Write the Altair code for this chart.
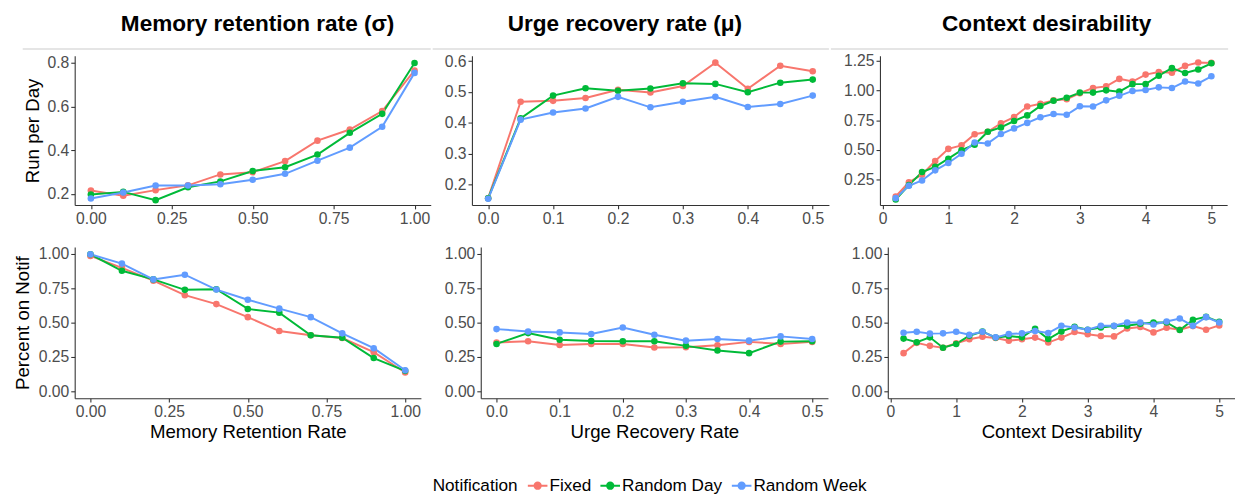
import altair as alt
import pandas as pd

FONT = "Liberation Sans"
CATS = ["Fixed", "Random Day", "Random Week"]
COLORS = ["#F8766D", "#00BA38", "#619CFF"]
LEGEND_TITLE = ["Notification"]

# ---------------- x values ----------------
sigma_x = [0.0, 0.1, 0.2, 0.3, 0.4, 0.5, 0.6, 0.7, 0.8, 0.9, 1.0]
mu_x = [0.0, 0.05, 0.1, 0.15, 0.2, 0.25, 0.3, 0.35, 0.4, 0.45, 0.5]
ctx_x = [0.2, 0.4, 0.6, 0.8, 1.0, 1.2, 1.4, 1.6, 1.8, 2.0, 2.2, 2.4, 2.6,
         2.8, 3.0, 3.2, 3.4, 3.6, 3.8, 4.0, 4.2, 4.4, 4.6, 4.8, 5.0]

# ---------------- Run per Day ----------------
run_sigma_fixed = [0.215, 0.191, 0.217, 0.239, 0.289, 0.299, 0.350, 0.444, 0.495, 0.580, 0.766]
run_sigma_day = [0.197, 0.209, 0.171, 0.230, 0.257, 0.305, 0.322, 0.380, 0.480, 0.567, 0.800]
run_sigma_week = [0.179, 0.206, 0.238, 0.238, 0.244, 0.265, 0.292, 0.352, 0.412, 0.508, 0.755]

run_mu_fixed = [0.155, 0.468, 0.471, 0.480, 0.507, 0.498, 0.519, 0.595, 0.510, 0.585, 0.567]
run_mu_day = [0.155, 0.414, 0.488, 0.512, 0.504, 0.511, 0.528, 0.526, 0.499, 0.530, 0.540]
run_mu_week = [0.153, 0.410, 0.433, 0.446, 0.484, 0.450, 0.468, 0.484, 0.451, 0.461, 0.488]

run_ctx_fixed = [0.111, 0.231, 0.294, 0.408, 0.510, 0.540, 0.633, 0.654, 0.725, 0.777,
                 0.865, 0.889, 0.917, 0.927, 0.977, 1.020, 1.034, 1.097, 1.075, 1.133,
                 1.154, 1.149, 1.206, 1.234, 1.231]
run_ctx_day = [0.086, 0.206, 0.316, 0.359, 0.428, 0.499, 0.545, 0.654, 0.690, 0.744,
               0.791, 0.870, 0.914, 0.939, 0.982, 0.982, 1.001, 0.990, 1.053, 1.053,
               1.124, 1.187, 1.146, 1.176, 1.228]
run_ctx_week = [0.097, 0.201, 0.245, 0.330, 0.392, 0.469, 0.564, 0.556, 0.635, 0.682,
                0.728, 0.775, 0.802, 0.796, 0.867, 0.865, 0.917, 0.955, 0.996, 1.004,
                1.026, 1.020, 1.075, 1.059, 1.119]

# ---------------- Percent on Notif ----------------
pct_sigma_fixed = [0.986, 0.899, 0.806, 0.700, 0.635, 0.540, 0.439, 0.408, 0.388, 0.285, 0.137]
pct_sigma_day = [0.998, 0.878, 0.815, 0.739, 0.743, 0.600, 0.573, 0.408, 0.390, 0.242, 0.149]
pct_sigma_week = [0.998, 0.930, 0.815, 0.849, 0.741, 0.667, 0.602, 0.540, 0.422, 0.314, 0.153]

pct_mu_fixed = [0.355, 0.365, 0.338, 0.345, 0.345, 0.319, 0.321, 0.336, 0.360, 0.345, 0.360]
pct_mu_day = [0.345, 0.424, 0.376, 0.367, 0.365, 0.365, 0.331, 0.297, 0.278, 0.362, 0.365]
pct_mu_week = [0.453, 0.436, 0.429, 0.417, 0.465, 0.412, 0.369, 0.381, 0.369, 0.400, 0.381]

pct_ctx_fixed = [0.278, 0.353, 0.331, 0.317, 0.350, 0.379, 0.398, 0.388, 0.369, 0.379,
                 0.391, 0.355, 0.391, 0.432, 0.415, 0.403, 0.400, 0.458, 0.468, 0.429,
                 0.463, 0.448, 0.475, 0.448, 0.480]
pct_ctx_day = [0.384, 0.357, 0.393, 0.317, 0.345, 0.405, 0.436, 0.391, 0.403, 0.393,
               0.456, 0.381, 0.436, 0.470, 0.448, 0.465, 0.475, 0.477, 0.492, 0.501,
               0.501, 0.446, 0.520, 0.542, 0.506]
pct_ctx_week = [0.427, 0.434, 0.420, 0.422, 0.434, 0.412, 0.434, 0.393, 0.417, 0.422,
                0.439, 0.424, 0.477, 0.465, 0.448, 0.477, 0.477, 0.501, 0.501, 0.487,
                0.508, 0.530, 0.477, 0.540, 0.501]


def frame(xs, fixed, day, week):
    rows = []
    for cat, ys in zip(CATS, [fixed, day, week]):
        for xv, yv in zip(xs, ys):
            rows.append({"x": xv, "y": yv, "Notification": cat})
    return pd.DataFrame(rows)


LEGEND = alt.Legend(
    orient="none", legendX=461, legendY=427, direction="horizontal",
    title=None,
    symbolType="M-1,0H1M-0.32,0A0.32,0.32,0,1,1,0.32,0A0.32,0.32,0,1,1,-0.32,0",
    symbolSize=400, symbolStrokeWidth=2, symbolOpacity=1,
)


def panel(df, xdom, xvals, xfmt, ydom, yvals, yfmt, width, height, extent,
          ytitle=None, xtitle=None, title=None, title_dx=0, rule=None,
          legend_title=False):
    base = alt.Chart(df).encode(
        x=alt.X("x:Q", title=xtitle,
                scale=alt.Scale(domain=xdom, nice=False, zero=False),
                axis=alt.Axis(values=xvals, format=xfmt)),
        y=alt.Y("y:Q", title=ytitle,
                scale=alt.Scale(domain=ydom, nice=False, zero=False),
                axis=alt.Axis(values=yvals, format=yfmt, minExtent=extent,
                              maxExtent=extent)),
        color=alt.Color("Notification:N",
                        scale=alt.Scale(domain=CATS, range=COLORS),
                        legend=LEGEND),
    )
    layers = []
    if rule is not None:
        layers.append(
            alt.Chart(pd.DataFrame({"r": [0]})).mark_rule(
                color="#cccccc", strokeWidth=1.2
            ).encode(x=alt.value(rule[0]), x2=alt.value(rule[1]), y=alt.value(-7))
        )
    layers.append(base.mark_line(strokeWidth=2))
    layers.append(base.mark_circle(size=45, opacity=1))
    if legend_title:
        layers.append(
            alt.Chart(pd.DataFrame({"t": LEGEND_TITLE})).mark_text(
                align="left", baseline="middle", font=FONT, fontSize=17.5,
                color="#000000",
            ).encode(text="t:N", x=alt.value(-49), y=alt.value(244))
        )
    props = dict(width=width, height=height)
    if title is not None:
        props["title"] = alt.TitleParams(
            text=title, fontSize=23, fontWeight="bold", font=FONT,
            color="#000000", anchor="middle", dx=title_dx, offset=-5,
            baseline="alphabetic",
        )
    return alt.layer(*layers).properties(**props)


H1 = 152
H2 = 154

p11 = panel(frame(sigma_x, run_sigma_fixed, run_sigma_day, run_sigma_week),
            [-0.05, 1.05], [0, 0.25, 0.5, 0.75, 1.0], ".2f",
            [0.149, 0.833], [0.2, 0.4, 0.6, 0.8], ".1f", 363, H1, 30,
            ytitle="Run per Day", title="Memory retention rate (σ)",
            title_dx=5, rule=(-53, 363))
p12 = panel(frame(mu_x, run_mu_fixed, run_mu_day, run_mu_week),
            [-0.025, 0.525], [0, 0.1, 0.2, 0.3, 0.4, 0.5], ".1f",
            [0.133, 0.617], [0.2, 0.3, 0.4, 0.5, 0.6], ".1f", 364, H1, 40,
            title="Urge recovery rate (μ)", title_dx=-26, rule=(-40, 364))
p13 = panel(frame(ctx_x, run_ctx_fixed, run_ctx_day, run_ctx_week),
            [-0.04, 5.24], [0, 1, 2, 3, 4, 5], "d",
            [0.04, 1.29], [0.25, 0.5, 0.75, 1.0, 1.25], ".2f", 354, H1, 50,
            title="Context desirability", title_dx=-7, rule=(-50, 355))

p21 = panel(frame(sigma_x, pct_sigma_fixed, pct_sigma_day, pct_sigma_week),
            [-0.05, 1.05], [0, 0.25, 0.5, 0.75, 1.0], ".2f",
            [-0.05, 1.05], [0, 0.25, 0.5, 0.75, 1.0], ".2f", 353, H2, 40,
            ytitle="Percent on Notif", xtitle="Memory Retention Rate")
p22 = panel(frame(mu_x, pct_mu_fixed, pct_mu_day, pct_mu_week),
            [-0.025, 0.525], [0, 0.1, 0.2, 0.3, 0.4, 0.5], ".1f",
            [-0.05, 1.05], [0, 0.25, 0.5, 0.75, 1.0], ".2f", 354, H2, 50,
            xtitle="Urge Recovery Rate", legend_title=True)
p23 = panel(frame(ctx_x, pct_ctx_fixed, pct_ctx_day, pct_ctx_week),
            [-0.04, 5.24], [0, 1, 2, 3, 4, 5], "d",
            [-0.05, 1.05], [0, 0.25, 0.5, 0.75, 1.0], ".2f", 354, H2, 50,
            xtitle="Context Desirability")

chart = alt.concat(
    p11, p12, p13, p21, p22, p23, columns=3, align="none", bounds="full",
    spacing={"row": 20, "column": 0},
).resolve_scale(
    x="independent", y="independent", color="shared"
).properties(
    padding={"left": 5, "top": 0, "right": 0, "bottom": 0}
).configure_view(stroke=None).configure_axis(
    domainColor="#333333", domainWidth=1.1, tickColor="#333333", tickWidth=1.1,
    tickSize=4, labelFont=FONT, labelFontSize=16, labelColor="#4d4d4d",
    labelPadding=2, labelFlush=False, titleFont=FONT, titleFontSize=19,
    titleFontWeight="normal", titleColor="#000000", titlePadding=3, grid=False,
).configure_legend(
    labelFont=FONT, labelFontSize=17.5, labelColor="#000000",
    labelOffset=1, columnPadding=5,
)

chart.save("out.html", embed_options={"renderer": "svg", "actions": False})
